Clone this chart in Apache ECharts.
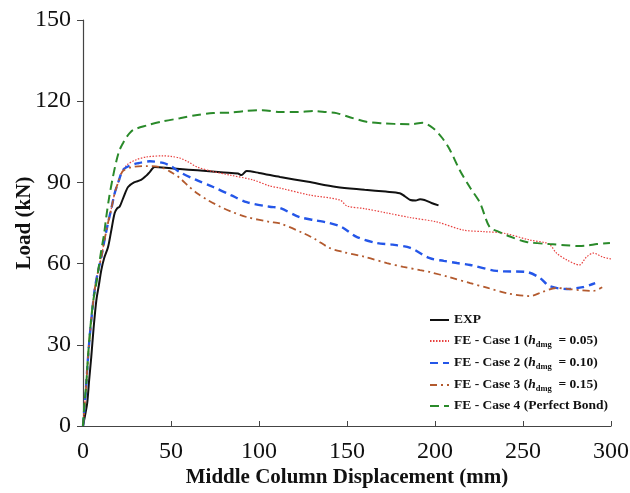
<!DOCTYPE html>
<html><head><meta charset="utf-8">
<script src="https://cdn.jsdelivr.net/npm/echarts@6/dist/echarts.min.js"></script>
<style>html,body{margin:0;padding:0;background:#fff}#c{width:630px;height:493px}</style>
</head><body><div id="c"></div>
<script>
var xTicks = [0, 50, 100, 150, 200, 250, 300];
var yTicks = [0, 30, 60, 90, 120, 150];
var seriesNames = ['EXP', 'FE - Case 1', 'FE - Case 2', 'FE - Case 3', 'FE - Case 4 (Perfect Bond)'];
var exp = [[0,0],[1.2,4],[2.4,8.5],[3.5,17],[4.7,25.5],[6,36],[7.6,46.5],[9,52],[10.4,57.6],[12,62],[14.2,66],[16,72],[18,78.7],[19.5,80.5],[20.8,81],[23,84.5],[25.6,88.3],[29,90],[33,90.9],[36,92.5],[37.9,93.8],[40.7,95.7],[50,95.2],[60,94.7],[70,94.2],[80,93.7],[88,93.3],[90,92.7],[93,94.2],[100,93.5],[112,92],[128,90.2],[144,88.3],[160,87.3],[172,86.6],[180,86],[183,84.8],[186,83.5],[189,83.3],[191.5,83.8],[194,83.5],[198,82.4],[202,81.5]];
var fe1 = [[0,0],[1.5,12],[2.5,22],[3.8,33],[5,41],[6.6,50.2],[8.5,57],[10.4,62.4],[12,68],[14.2,75],[16,80],[18,86],[20,90],[21.8,93.5],[25,96.5],[30,98.3],[36,99.4],[45.5,99.8],[50,99.6],[55,99],[60,97.5],[64.8,95.7],[74,94],[83.5,92.7],[96.6,90.9],[106,88.7],[112,87.9],[129,85.3],[146,83.5],[150,81.3],[160,80.3],[172.7,78.7],[186,77],[201,75.4],[216,72.4],[228,71.8],[238.6,71.3],[254,68.7],[263.6,67.6],[266,66.5],[269,63.9],[275,61.3],[282,59.5],[286,62.4],[290,63.9],[295,62.5],[300,61.7]];
var fe2 = [[0,0],[1.5,12],[2.5,22],[3.8,33],[5,41],[6.6,50.2],[8.5,57],[10.4,62.4],[12,68],[14.2,75],[16,80],[18,86],[20,90],[22.7,94.6],[26,96],[30.7,97],[38,97.8],[45.5,97.2],[50,96],[55,93.8],[64,91],[74,88.3],[84,85.3],[93,82.7],[106,81],[112,80.5],[123,77.2],[132,76],[140,75],[147,73.5],[155.7,69.8],[167,67.6],[176,67],[186,65.8],[197,62],[205,61],[212.5,60.2],[220,59.5],[235,57.3],[252,56.9],[259.6,54.7],[265,51.7],[275,50.6],[284,51.3],[291,52.8]];
var fe3 = [[0,0],[1.5,12],[2.5,22],[3.8,33],[5,41],[6.6,50.2],[8.5,57],[10.4,62.4],[12,68],[14.2,75],[16,80],[18,86],[20,90],[22.7,94.2],[27.4,95.6],[36,96],[43.7,95.7],[50,93.8],[55,91.6],[60,88.6],[64.8,86],[70,83.8],[78,81],[85,79],[93,77.2],[106,75.4],[112,74.8],[125,71.3],[132,69],[140,65.8],[147.7,64.3],[160,62.5],[172.7,60.2],[182,58.8],[191.5,57.6],[197,56.9],[208,55],[220,52.8],[230,51],[241,49],[254,48],[261,49.5],[269,51],[276,50.6],[282,50.2],[290,49.9],[295,51.3]];
var fe4 = [[0,0],[0.8,8],[1.9,15.9],[3,27],[4.7,40],[6,47],[7.6,52.8],[9,59],[10.4,65],[12,71],[13.2,77.2],[15,85],[17,92],[19,98],[20.8,102],[22.7,104.5],[25,107],[28.4,109.3],[36,111],[45,112.5],[55,113.7],[64,114.8],[74,115.6],[84,115.8],[93,116.4],[102,116.7],[112,116],[122,116],[131,116.4],[138,116],[144,115.6],[152,114],[161,112.4],[170,111.8],[178,111.6],[186,111.5],[193,112],[199,110],[204,106.5],[208.5,102],[214,94.6],[220,88],[225.6,82.4],[231,73.5],[236,71.8],[242.6,70],[252,68],[265,67.2],[274,66.8],[282,66.5],[287,66.7],[292,67.2],[299.4,67.6]];
var hValues = [null, '0.05', '0.10', '0.15', null];

var serif = '"Liberation Serif","Times New Roman",serif';
var chart = echarts.init(document.getElementById('c'));
function mk(name, data, color, type, width) {
  return {name: name, type: 'line', data: data, showSymbol: false, symbol: 'none', smooth: 0.3,
    lineStyle: {color: color, type: type, width: width}, itemStyle: {color: color}};
}
chart.setOption({
  animation: false,
  backgroundColor: '#fff',
  grid: {left: 83, right: 19, top: 20, bottom: 67, containLabel: false, outerBoundsMode: 'none'},
  xAxis: {type: 'value', min: 0, max: 300, interval: 50,
    name: 'Middle Column Displacement (mm)', nameLocation: 'middle', nameGap: 41, nameMoveOverlap: false,
    nameTextStyle: {fontFamily: serif, fontWeight: 'bold', fontSize: 21, color: '#111'},
    axisLine: {lineStyle: {color: '#444', width: 1.2}},
    axisTick: {inside: true, length: 5, lineStyle: {color: '#444'}},
    axisLabel: {fontFamily: serif, fontSize: 24, color: '#111', margin: 14},
    splitLine: {show: false}},
  yAxis: {type: 'value', min: 0, max: 150, interval: 30,
    name: 'Load (kN)', nameLocation: 'middle', nameGap: 48, nameMoveOverlap: false,
    nameTextStyle: {fontFamily: serif, fontWeight: 'bold', fontSize: 21, color: '#111'},
    axisLine: {show: true, lineStyle: {color: '#444', width: 1.2}},
    axisTick: {show: true, inside: false, length: 6, lineStyle: {color: '#444'}},
    axisLabel: {fontFamily: serif, fontSize: 24, color: '#111', margin: 12},
    splitLine: {show: false}},
  legend: {orient: 'vertical', left: 424, top: 308, itemWidth: 19, itemHeight: 10, itemGap: 6,
    data: seriesNames,
    itemStyle: {opacity: 0},
    formatter: function (n) {
      var i = seriesNames.indexOf(n);
      if (hValues[i]) {
        return '{b|' + n + ' (}{i|h}{s|dmg}{b|  = ' + hValues[i] + ')}';
      }
      return '{b|' + n + '}';
    },
    textStyle: {fontFamily: serif, fontWeight: 'bold', fontSize: 13.5, color: '#111',
      rich: {
        b: {fontFamily: serif, fontWeight: 'bold', fontSize: 13.5, color: '#111', lineHeight: 16},
        i: {fontFamily: serif, fontWeight: 'bold', fontStyle: 'italic', fontSize: 13.5, color: '#111', lineHeight: 16},
        s: {fontFamily: serif, fontWeight: 'bold', fontSize: 8.5, color: '#111', padding: [7, 0, 0, 0], lineHeight: 16}
      }}},
  series: [
    mk(seriesNames[0], exp, '#111111', 'solid', 2),
    mk(seriesNames[1], fe1, '#e8413f', [1.5, 1.5], 1.2),
    mk(seriesNames[2], fe2, '#2456e8', [8, 5], 2.4),
    mk(seriesNames[3], fe3, '#b35a2e', [7, 4, 2, 4], 1.8),
    mk(seriesNames[4], fe4, '#2a8a2a', [9, 5], 2)
  ]
});
</script></body></html>
